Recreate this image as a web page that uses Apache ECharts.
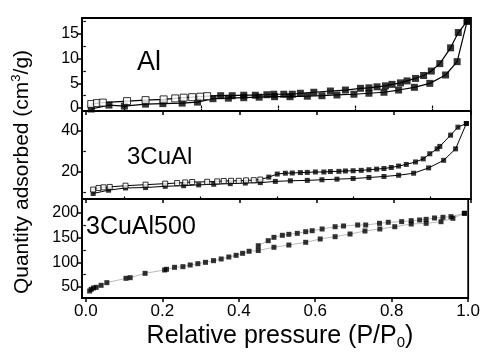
<!DOCTYPE html>
<html><head><meta charset="utf-8">
<script src="https://cdn.jsdelivr.net/npm/echarts@6/dist/echarts.min.js"></script>
<style>html,body{margin:0;padding:0;background:#fff}#c{width:483px;height:353px}</style>
</head><body><div id="c"></div>
<script>
// ---- Data ----
const xTicks = [0, 0.2, 0.4, 0.6, 0.8, 1.0];
const xMinorTicks = [0.1, 0.3, 0.5, 0.7, 0.9];
const panelNames = ['Al', '3CuAl', '3CuAl500'];
const yTicksAl = [0, 5, 10, 15];
const yMinorAl = [2.5, 7.5, 12.5, 17.5];
const yTicksCu = [20, 40];
const yMinorCu = [10, 30];
const yTicks500 = [50, 100, 150, 200];
const yMinor500 = [75, 125, 175];

// Al panel
const alAdsP = [0.014,0.06,0.10,0.155,0.20,0.25,0.29,0.33,0.37,0.41,0.45,0.49,0.53,0.575,0.613,0.652,0.696,0.735,0.774,0.812,0.853,0.893,0.934,0.964,0.99];
const alAdsV = [-0.2,0.6,0.4,0.8,0.9,1.0,1.2,1.9,2.0,2.1,2.2,2.3,2.3,2.4,2.5,2.65,2.8,3.0,3.2,3.65,4.2,5.0,6.7,9.4,17.6];
const alDesOpenP = [0.014,0.029,0.044,0.107,0.155,0.202,0.232,0.254,0.276,0.297,0.315];
const alDesOpenV = [0.8,1.0,1.1,1.4,1.6,1.75,1.95,2.1,2.2,2.3,2.4];
const alDesP = [0.35,0.38,0.41,0.44,0.47,0.488,0.514,0.536,0.557,0.592,0.635,0.674,0.713,0.735,0.756,0.778,0.795,0.817,0.834,0.856,0.877,0.897,0.919,0.947,0.967,0.99];
const alDesV = [2.5,2.5,2.6,2.6,2.7,2.8,2.8,2.8,3.0,3.2,3.45,3.65,4.0,4.1,4.3,4.5,4.8,5.1,5.5,6.0,6.6,7.5,9.0,12.2,15.3,17.6];

// 3CuAl panel
const cuAdsP = [0.019,0.059,0.103,0.155,0.206,0.254,0.293,0.332,0.375,0.414,0.453,0.492,0.531,0.575,0.613,0.652,0.694,0.735,0.774,0.812,0.851,0.89,0.929,0.96,0.988];
const cuAdsV = [9.5,11.1,12.2,12.4,13.0,13.3,13.7,14.0,14.3,14.6,14.8,15.4,15.7,15.9,16.2,16.5,16.8,17.3,17.8,18.4,19.4,22.0,25.7,31.3,43.7];
const cuDesOpenP = [0.019,0.033,0.046,0.062,0.103,0.155,0.206,0.237,0.258,0.276,0.315,0.341,0.358,0.377,0.397,0.416,0.436,0.453];
const cuDesOpenV = [11.4,12.2,12.5,12.7,13.3,13.8,14.3,14.6,14.9,15.1,15.2,15.4,15.6,15.7,15.7,15.9,16.0,16.3];
const cuDesP = [0.475,0.497,0.518,0.536,0.557,0.575,0.596,0.618,0.635,0.657,0.674,0.694,0.715,0.735,0.755,0.774,0.793,0.812,0.832,0.856,0.876,0.893,0.912,0.919,0.947,0.966,0.988];
const cuDesV = [17.5,19.0,19.4,19.5,19.7,19.8,20.0,20.0,20.2,20.3,20.5,20.6,20.8,21.1,21.4,21.7,22.2,22.9,23.7,24.9,26.4,28.9,31.3,32.5,38.0,41.9,43.7];

// 3CuAl500 panel
const c5AdsP = [0.010,0.014,0.020,0.027,0.040,0.055,0.105,0.116,0.155,0.206,0.211,0.232,0.254,0.273,0.293,0.313,0.334,0.354,0.374,0.393,0.41,0.427,0.451,0.492,0.531,0.575,0.613,0.652,0.691,0.73,0.769,0.808,0.851,0.89,0.929,0.96,0.99];
const c5AdsV = [41.9,45.3,48.0,49.3,53.4,58.8,67.6,68.9,77.7,84.5,85.9,89.9,91.2,94.6,97.3,100.0,103.4,106.8,110.8,114.2,118.3,122.4,124.0,130.5,135.1,140.6,147.3,152.0,157.4,163.5,167.6,172.2,177.7,179.1,182.4,189.3,199.4];
const c5DesP = [0.451,0.477,0.492,0.514,0.531,0.553,0.575,0.592,0.618,0.652,0.674,0.711,0.732,0.768,0.791,0.826,0.851,0.873,0.89,0.912,0.934,0.955,0.99];
const c5DesV = [133.7,143.9,150.7,154.8,156.8,158.8,162.1,164.1,167.6,172.2,173.7,175.7,175.7,179.1,181.2,182.5,184.5,185.8,187.2,189.9,191.3,192.6,199.4];

// ---- Chart ----
const zip = (a, b) => a.map((v, i) => [v, b[i]]);
const FONT = '"Liberation Sans", Arial, sans-serif';
const grids = [
  { top: 18, height: 93 },
  { top: 111, height: 88 },
  { top: 199, height: 99 }
];
const yRanges = [[-0.6, 18.25], [6.8, 49.8], [27.7, 228.4]];
const yMajor = [yTicksAl, yTicksCu, yTicks500];
const yMinor = [yMinorAl, yMinorCu, yMinor500];

const xAxes = [], yAxes = [], gridOpts = [];
grids.forEach((g, i) => {
  gridOpts.push({ left: 82, right: 12, top: g.top, height: g.height, show: true,
    borderColor: '#000', borderWidth: 1.8, backgroundColor: 'transparent' });
  xAxes.push({ type: 'value', gridIndex: i, min: -0.01, max: 1.0,
    axisLine: { show: true, onZero: false, lineStyle: { color: '#000', width: 1.8 } },
    axisTick: { show: true, customValues: xTicks, length: 4, lineStyle: { color: '#000', width: 1.5 } },
    axisLabel: { show: i === 2, customValues: xTicks, formatter: v => v.toFixed(1),
      fontSize: 17, color: '#000', fontFamily: FONT, margin: 5 },
    splitLine: { show: false } });
  xAxes.push({ type: 'value', gridIndex: i, min: -0.01, max: 1.0,
    axisLine: { show: false },
    axisTick: { show: true, customValues: xMinorTicks, length: 2.5, lineStyle: { color: '#000', width: 1.2 } },
    axisLabel: { show: false }, splitLine: { show: false } });
  yAxes.push({ type: 'value', gridIndex: i, min: yRanges[i][0], max: yRanges[i][1],
    axisLine: { show: true, onZero: false, lineStyle: { color: '#000', width: 1.8 } },
    axisTick: { show: true, customValues: yMajor[i], length: 4, lineStyle: { color: '#000', width: 1.5 } },
    axisLabel: { customValues: yMajor[i], fontSize: 16, color: '#000', fontFamily: FONT, margin: 3 },
    splitLine: { show: false } });
  yAxes.push({ type: 'value', gridIndex: i, min: yRanges[i][0], max: yRanges[i][1], position: 'left',
    axisLine: { show: false },
    axisTick: { show: true, customValues: yMinor[i], length: 2.5, lineStyle: { color: '#000', width: 1.2 } },
    axisLabel: { show: false }, splitLine: { show: false } });
});

function lineS(i, data, color, w) {
  return { type: 'line', xAxisIndex: 2 * i, yAxisIndex: 2 * i, data, showSymbol: false, symbol: 'none',
    lineStyle: { color, width: w }, silent: true, animation: false, z: 2 };
}
function markS(i, data, size, open) {
  return { type: 'scatter', xAxisIndex: 2 * i, yAxisIndex: 2 * i, data, symbol: 'rect', symbolSize: size,
    itemStyle: open ? { color: '#fff', borderColor: '#000', borderWidth: 1 } : { color: '#000' },
    silent: true, animation: false, z: 3 };
}

const alDesAll = zip(alDesOpenP, alDesOpenV).concat(zip(alDesP, alDesV));
const cuDesAll = zip(cuDesOpenP, cuDesOpenV).concat(zip(cuDesP, cuDesV));
const series = [
  lineS(0, zip(alAdsP, alAdsV), '#000', 1.2),
  lineS(0, alDesAll, '#000', 1.2),
  markS(0, zip(alAdsP, alAdsV), 7, false),
  markS(0, zip(alDesOpenP, alDesOpenV), 7, true),
  markS(0, zip(alDesP, alDesV), 7, false),
  lineS(1, zip(cuAdsP, cuAdsV), '#000', 1),
  lineS(1, cuDesAll, '#000', 1),
  markS(1, zip(cuAdsP, cuAdsV), 5, false),
  markS(1, zip(cuDesOpenP, cuDesOpenV), 5, true),
  markS(1, zip(cuDesP, cuDesV), 5, false),
  lineS(2, zip(c5AdsP, c5AdsV), '#bbb', 1),
  lineS(2, zip(c5DesP, c5DesV), '#bbb', 1),
  markS(2, zip(c5AdsP, c5AdsV), 5, false),
  markS(2, zip(c5DesP, c5DesV), 5, false)
];

const chart = echarts.init(document.getElementById('c'), null, { renderer: 'canvas' });
chart.setOption({
  animation: false,
  backgroundColor: '#fff',
  grid: gridOpts, xAxis: xAxes, yAxis: yAxes, series,
  graphic: [
    { type: 'text', left: 137, top: 49, style: { text: panelNames[0], fontSize: 27, fontFamily: FONT, fill: '#000' } },
    { type: 'text', left: 127, top: 145, style: { text: panelNames[1], fontSize: 24, fontFamily: FONT, fill: '#000' } },
    { type: 'text', left: 86, top: 215, style: { text: panelNames[2], fontSize: 25, fontFamily: FONT, fill: '#000' } },
    { type: 'text', x: 280, y: 336, style: { text: 'Relative pressure (P/P{sub|0})', fontSize: 25, fontFamily: FONT, fill: '#000',
        align: 'center', verticalAlign: 'middle', lineHeight: 28,
        rich: { sub: { fontSize: 15, fontFamily: FONT, verticalAlign: 'bottom', lineHeight: 12 } } } },
    { type: 'text', x: 22, y: 172, rotation: Math.PI / 2, style: { text: 'Quantity adsorbed (cm{sup|3}/g)', fontSize: 21, fontFamily: FONT, fill: '#000',
        align: 'center', verticalAlign: 'middle', lineHeight: 24,
        rich: { sup: { fontSize: 13, fontFamily: FONT, verticalAlign: 'top', lineHeight: 12 } } } }
  ]
});
</script></body></html>
